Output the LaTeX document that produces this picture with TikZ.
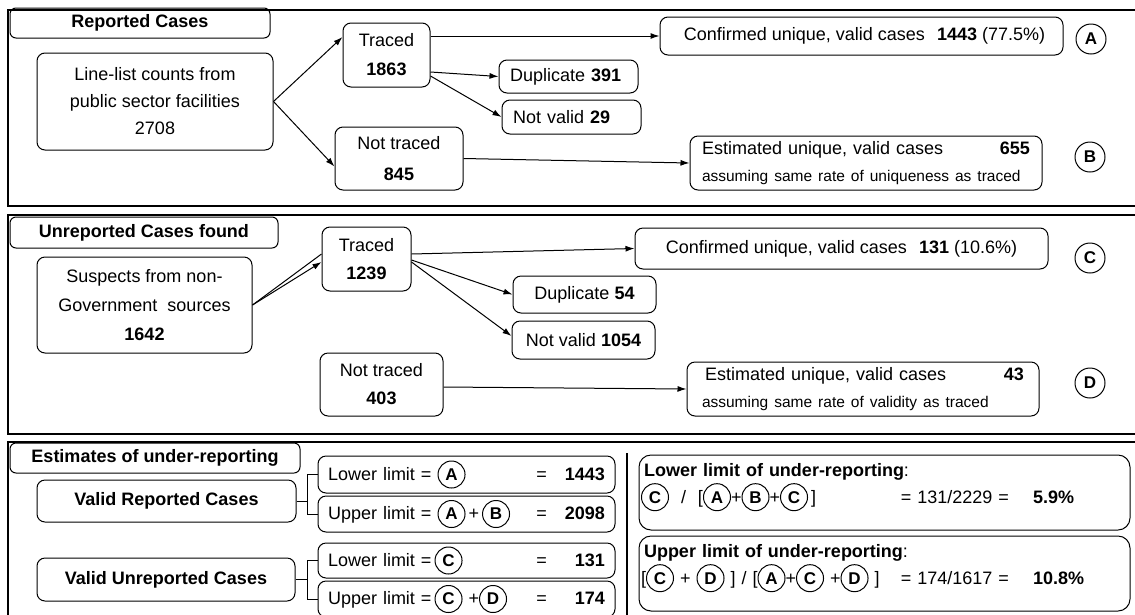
\documentclass[tikz,border=0pt]{standalone}
\usepackage{fontspec}
\setmainfont{Liberation Sans}
\usetikzlibrary{arrows.meta}

\newcommand{\clet}[1]{\tikz[baseline=(ltr.base)]\node[circle,draw,line width=1pt,inner sep=0pt,minimum size=27pt,font=\bfseries\fontsize{17}{17}\selectfont](ltr){#1};}

\begin{document}
\begin{tikzpicture}[x=1pt,y=-1pt,
  box/.style={draw,rounded corners=8pt,line width=1pt,inner sep=0pt,align=center,font=\fontsize{18}{27}\selectfont},
  title/.style={draw,rounded corners=6pt,line width=1pt,inner sep=0pt,font=\bfseries\fontsize{18}{22}\selectfont},
  letter/.style={circle,draw,line width=1pt,inner sep=0pt,minimum size=30pt,font=\bfseries\fontsize{17}{17}\selectfont},
  limbox/.style={box,minimum width=297pt,text width=277pt,align=left},
  ratebox/.style={box,rounded corners=12pt,minimum width=491pt,minimum height=75pt,text width=487pt,align=left},
  arr/.style={-{Latex[length=9pt,width=6pt]},line width=1pt},
  panel/.style={line width=1.2pt}]
  \useasboundingbox (0,0) rectangle (1135,614);
  %reported cases
  \draw[panel] (8,10) rectangle (1145,206);
  \node[title,minimum width=260pt,minimum height=30pt] (rtitle) at (140,23) {Reported Cases};
  \node[box,minimum width=236pt,minimum height=97pt] (list) at (155,101.5) {Line-list counts from\\public sector facilities\\2708};
  \node[box,minimum width=87pt,minimum height=64pt,font=\fontsize{18}{29}\selectfont] (rtr) at (386.5,55) {Traced\\\textbf{1863}};
  \node[box,minimum width=128pt,minimum height=63pt,font=\fontsize{18}{31}\selectfont] (rnt) at (399,158.5) {Not traced\\\textbf{845}};
  \node[box,minimum width=403pt,minimum height=38pt] (rcon) at (861.5,36) {\hspace*{6pt}Confirmed unique, valid cases\hspace{12pt}\textbf{1443} (77.5\%)};
  \node[box,minimum width=139pt,minimum height=33pt,text width=117pt,align=left] (rdup) at (568.5,76.5) {Duplicate \textbf{391}};
  \node[box,minimum width=139pt,minimum height=34pt,text width=117pt,align=left] (rnv) at (571.5,117) {Not valid \textbf{29}};
  \node[box,minimum width=352pt,minimum height=54pt,text width=328pt,align=left] (rest) at (866,163) {Estimated unique, valid cases\hfill\textbf{655}\hspace*{20pt}\\{\fontsize{15.5}{18}\selectfont assuming same rate of uniqueness as traced}};
  \node[letter] (la) at (1091,39) {A};
  \node[letter] (lb) at (1090,157) {B};
  \draw[arr] (list.east) -- ([yshift=18pt]rtr.west);
  \draw[arr] (list.east) -- ([yshift=-8pt]rnt.west);
  \draw[arr] (rtr.east |- rcon.west) -- (rcon.west);
  \draw[arr] ([yshift=-17pt]rtr.east) -- (rdup.west);
  \draw[arr] ([yshift=-21pt]rtr.east) -- (rnv.west);
  \draw[arr] (rnt.east) -- (rest.west);

  %unreported cases
  \draw[panel] (8,215) rectangle (1145,434);
  \node[title,minimum width=268pt,minimum height=31pt] (utitle) at (144,232.5) {Unreported Cases found};
  \node[box,minimum width=215pt,minimum height=96pt,font=\fontsize{18}{29}\selectfont] (sus) at (144.5,305) {Suspects from non-\\Government\ \ sources\\\textbf{1642}};
  \node[box,minimum width=89pt,minimum height=64pt,font=\fontsize{18}{28}\selectfont] (utr) at (366.5,259) {Traced\\\textbf{1239}};
  \node[box,minimum width=123pt,minimum height=63pt,font=\fontsize{18}{28}\selectfont] (unt) at (381.5,384.5) {Not traced\\\textbf{403}};
  \node[box,minimum width=413pt,minimum height=41pt] (ucon) at (841.5,248.5) {Confirmed unique, valid cases\hspace{12pt}\textbf{131} (10.6\%)};
  \node[box,minimum width=143pt,minimum height=37pt] (udup) at (584.5,294.5) {Duplicate \textbf{54}};
  \node[box,minimum width=143pt,minimum height=38pt] (unv) at (583.5,340) {Not valid \textbf{1054}};
  \node[box,minimum width=352pt,minimum height=54pt,text width=322pt,align=left] (uest) at (863,389) {\hspace*{3pt}Estimated unique, valid cases\hfill\textbf{43}\hspace*{22pt}\\{\fontsize{15.5}{18}\selectfont assuming same rate of validity as traced}};
  \node[letter] (lc) at (1090,258) {C};
  \node[letter] (ld) at (1090,383) {D};
  \draw[arr] (sus.east) -- ([yshift=-3pt]utr.west);
  \draw[line width=1pt] (sus.east) -- ([yshift=5pt]utr.west);
  \draw[arr] ([yshift=5pt]utr.east) -- (ucon.west);
  \draw[arr] ([yshift=-1pt]utr.east) -- (udup.west);
  \draw[arr] ([yshift=-3pt]utr.east) -- ([yshift=4pt]unv.west);
  \draw[arr] ([yshift=-2.5pt]unt.east) -- (uest.west);

  %estimates
  \draw[panel] (8,442) rectangle (1145,625);
  \node[title,minimum width=290pt,minimum height=30pt] (etitle) at (155,458) {Estimates of under-reporting};
  \node[box,minimum width=259pt,minimum height=42pt,font=\bfseries\fontsize{18}{22}\selectfont] (vrc) at (166.5,501) {Valid Reported Cases};
  \node[box,minimum width=258pt,minimum height=43pt,font=\bfseries\fontsize{18}{22}\selectfont] (vuc) at (166,579.5) {Valid Unreported Cases};
  \node[limbox,minimum height=37pt] (lo1) at (466.5,474.5) {Lower limit = \clet{A}\hfill=\hspace{18pt}\makebox[40pt][r]{\textbf{1443}}};
  \node[limbox,minimum height=36pt] (up1) at (466.5,514) {Upper limit = \clet{A}\,+\,\clet{B}\hfill=\hspace{18pt}\makebox[40pt][r]{\textbf{2098}}};
  \node[limbox,minimum height=35pt] (lo2) at (466.5,560.5) {Lower limit =\,\clet{C}\hfill=\hspace{18pt}\makebox[40pt][r]{\textbf{131}}};
  \node[limbox,minimum height=36pt] (up2) at (466.5,599) {Upper limit =\,\clet{C} +\clet{D}\hfill=\hspace{18pt}\makebox[40pt][r]{\textbf{174}}};
  \draw[line width=1pt] (vrc.east) -- ++(11,0) coordinate (vrcb);
  \draw[line width=1pt] (vrcb) |- (lo1.west);
  \draw[line width=1pt] (vrcb) |- (up1.west);
  \draw[line width=1pt] (vuc.east) -- ++(12,0) coordinate (vucb);
  \draw[line width=1pt] (vucb) |- (lo2.west);
  \draw[line width=1pt] (vucb) |- (up2.west);
  \draw[line width=2pt] (627,453) -- (627,625);
  \node[ratebox] (lrate) at (884.5,492.5) {\hspace*{3pt}\textbf{Lower limit of under-reporting}:\\\clet{C}\ \ /\ \ [\clet{A}+\clet{B}+\clet{C}\,]\hfill= 131/2229 =\hspace{24pt}\makebox[62pt][l]{\textbf{5.9\%}}\hspace*{33pt}\rule[-19pt]{0pt}{0pt}};
  \node[ratebox] (urate) at (884.5,573.5) {\hspace*{3pt}\textbf{Upper limit of under-reporting}:\\{[}\clet{C} + \clet{D} ] / [\clet{A}+\clet{C} +\clet{D} ]\hfill= 174/1617 =\hspace{24pt}\makebox[62pt][l]{\textbf{10.8\%}}\hspace*{33pt}\rule[-19pt]{0pt}{0pt}};
\end{tikzpicture}
\end{document}
